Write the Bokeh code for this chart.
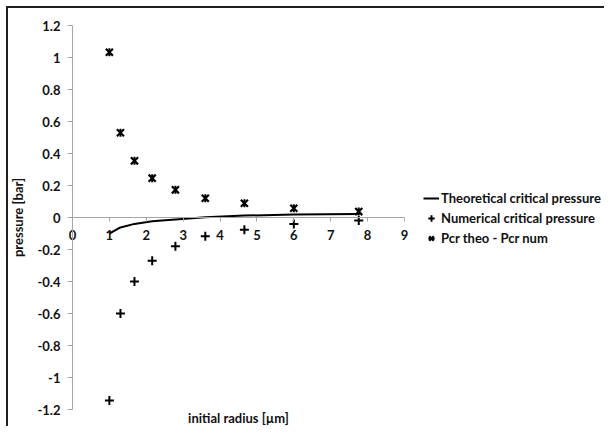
import math
from bokeh.plotting import figure
from bokeh.models import (Range1d, LinearAxis, FixedTicker, Legend, LegendItem, Label)
from bokeh.embed import file_html
from bokeh.resources import INLINE

# ---- data ----
radius = [1.0, 1.3, 1.68, 2.16, 2.79, 3.6, 4.66, 6.0, 7.76]
theoretical = [-0.1, -0.062, -0.04, -0.024, -0.012, 0.002, 0.012, 0.018, 0.022]
numerical = [-1.144, -0.60, -0.40, -0.27, -0.18, -0.117, -0.077, -0.04, -0.019]
difference = [1.033, 0.53, 0.354, 0.246, 0.173, 0.12, 0.089, 0.058, 0.037]

x_ticks = [0, 1, 2, 3, 4, 5, 6, 7, 8, 9]
y_ticks = [-1.2, -1.0, -0.8, -0.6, -0.4, -0.2, 0.0, 0.2, 0.4, 0.6, 0.8, 1.0, 1.2]
y_tick_labels = ["-1.2", "-1", "-0.8", "-0.6", "-0.4", "-0.2", "0", "0.2", "0.4", "0.6", "0.8", "1", "1.2"]

series_names = ["Theoretical critical pressure", "Numerical critical pressure", "Pcr theo - Pcr num"]
x_title = "initial radius [\u00b5m]"
y_title = "pressure [bar]"

FONT = "Lato"
AXIS_GRAY = "#a6a6a6"
TXT = "#111111"

# frame covers the whole canvas; axes cross inside it
p = figure(width=598, height=420, output_backend="svg", toolbar_location=None,
           x_range=Range1d(-1.735, 14.476), y_range=Range1d(-1.31875, 1.30625),
           x_axis_location=None, y_axis_location=None,
           min_border_left=0, min_border_right=0, min_border_top=0, min_border_bottom=0)
p.title.visible = False
p.outline_line_color = None
p.grid.visible = False
p.background_fill_color = "white"
p.border_fill_color = "white"
p.styles = {"border-top": "2px solid #231f20", "border-left": "2px solid #231f20",
            "margin-top": "6px", "margin-left": "6px"}

# y axis at x = 0
yax = LinearAxis(ticker=FixedTicker(ticks=y_ticks), fixed_location=0, bounds=(-1.2, 1.2),
                 major_label_overrides={t: l for t, l in zip(y_ticks, y_tick_labels)},
                 axis_label=y_title)
yax.axis_line_color = AXIS_GRAY
yax.major_tick_line_color = AXIS_GRAY
yax.major_tick_in = 0
yax.major_tick_out = 5
yax.minor_tick_line_color = None
yax.major_label_standoff = 7
yax.major_label_text_font = FONT
yax.major_label_text_font_style = "bold"
yax.major_label_text_font_size = "13px"
yax.major_label_text_color = TXT
yax.axis_label_text_font = FONT
yax.axis_label_text_font_style = "bold"
yax.axis_label_text_font_size = "13px"
yax.axis_label_text_color = TXT
yax.axis_label_standoff = 8
p.add_layout(yax, "left")

# x axis crossing at y = 0
xax = LinearAxis(ticker=FixedTicker(ticks=x_ticks), fixed_location=0, bounds=(0, 9))
xax.axis_line_color = AXIS_GRAY
xax.major_tick_line_color = AXIS_GRAY
xax.major_tick_in = 0
xax.major_tick_out = 4
xax.minor_tick_line_color = None
xax.major_label_standoff = 8
xax.major_label_text_font = FONT
xax.major_label_text_font_style = "bold"
xax.major_label_text_font_size = "13px"
xax.major_label_text_color = TXT
p.add_layout(xax, "below")

p.add_layout(Label(x=4.5, y=-1.252, text=x_title, text_align="center", text_baseline="middle",
                   text_font=FONT, text_font_style="bold", text_font_size="13px",
                   text_color=TXT))

r_line = p.line(radius, theoretical, line_color="black", line_width=2)
r_num = p.scatter(radius, numerical, marker="cross", size=9, line_color="black", line_width=2)
r_diff_x = p.scatter(radius, difference, marker="x", size=10, line_color="black", line_width=2.2)
r_diff_v = p.scatter(radius, difference, marker="dash", angle=math.pi / 2, size=8,
                     line_color="black", line_width=2)

legend = Legend(items=[LegendItem(label=series_names[0], renderers=[r_line]),
                       LegendItem(label=series_names[1], renderers=[r_num]),
                       LegendItem(label=series_names[2], renderers=[r_diff_x, r_diff_v])],
                location=(415, 181), padding=0, margin=0, spacing=2,
                glyph_width=16, glyph_height=18, label_standoff=2,
                border_line_color=None, background_fill_alpha=0,
                label_text_font=FONT, label_text_font_style="bold",
                label_text_font_size="13px", label_text_color=TXT)
p.add_layout(legend)

open("out.html", "w").write(file_html(p, INLINE))
